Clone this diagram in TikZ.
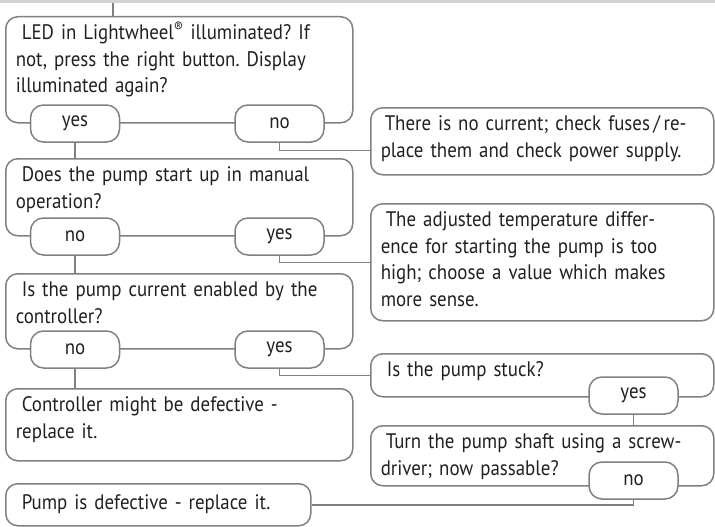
\documentclass[tikz,border=0pt]{standalone}
\usepackage{fontspec}
\setmainfont{PT Sans}[FakeStretch=0.9]
\frenchspacing
\usetikzlibrary{positioning}
\definecolor{linegray}{HTML}{808080}
\definecolor{bargray}{HTML}{D3D3D3}
\definecolor{textgray}{HTML}{231F20}

\begin{document}
\begin{tikzpicture}[
    x=1pt, y=-1pt,
    font=\fontsize{21}{26.5}\selectfont,
    box/.style={rectangle, draw=linegray, line width=1.5pt, rounded corners=12pt, anchor=north west, align=left, text width=#1, inner xsep=10pt, inner ysep=9pt, text height=14pt, text=textgray},
    pill/.style={rectangle, draw=linegray, fill=white, line width=1.5pt, rounded corners=13pt, minimum width=89pt, minimum height=37pt, inner sep=0pt, text=textgray},
    link/.style={draw=linegray, line width=1.5pt},
]
\useasboundingbox (0,0) rectangle (715,527);
\fill[bargray] (0,0) rectangle (715,3);
\coordinate (bar) at (113,3);

\node[box=327pt, text depth=74pt] (q1) at (5,16) {\hspace*{6pt}LED in Lightwheel\textsuperscript{®} illuminated? If\\not, press the right button. Display\\illuminated again?};
\node[box=323pt, text depth=35pt] (nc) at (370,107) {\hspace*{4pt}There is no current; check fuses\,/\,re-\\place them and check power supply.};
\node[box=327pt, text depth=45pt] (q2) at (5,158) {\hspace*{6pt}Does the pump start up in manual\\operation?};
\node[box=323pt, text depth=85pt] (td) at (370,203) {\hspace*{5pt}The adjusted temperature differ-\\ence for starting the pump is too\\high; choose a value which makes\\more sense.};
\node[box=327pt, text depth=43pt] (q3) at (5,273) {\hspace*{6pt}Is the pump current enabled by the\\controller?};
\node[box=323pt, text depth=11pt] (st) at (370,353) {\hspace*{6pt}Is the pump stuck?};
\node[box=327pt, text depth=40pt] (cd) at (5,388) {\hspace*{6pt}Controller might be defective -\\replace it.};
\node[box=323pt, text depth=28pt] (ts) at (370,425) {\hspace*{5pt}Turn the pump shaft using a screw-\\driver; now passable?};
\node[box=285pt, text depth=4pt, inner ysep=12pt] (pd) at (5,483) {\hspace*{6pt}Pump is defective - replace it.};

\node[pill] (q1yes) at ([xshift=70pt]q1.south west) {yes};
\node[pill] (q1no) at ([xshift=-74pt]q1.south east) {no};
\node[pill] (q2no) at ([xshift=70pt]q2.south west) {no};
\node[pill] (q2yes) at ([xshift=-74pt]q2.south east) {yes};
\node[pill] (q3no) at ([xshift=70pt]q3.south west) {no};
\node[pill] (q3yes) at ([xshift=-74pt]q3.south east) {yes};
\node[pill] (styes) at ([xshift=-81pt, yshift=2pt]st.south east) {yes};
\node[pill] (tsno) at ([xshift=-81pt, yshift=6pt]ts.south east) {no};

\draw[link] (bar) -- (bar |- q1.north);
\draw[link] (q1yes.south) -- (q1yes.south |- q2.north);
\draw[link] (q1no.south) |- ([yshift=-9pt]nc.west);
\draw[link] (q2no.south) -- (q2no.south |- q3.north);
\draw[link] (q2yes.south) |- (td.west);
\draw[link] (q3no.south) -- (q3no.south |- cd.north);
\draw[link] (q3yes.south) |- (st.west);
\draw[link] (styes.south) -- (styes.south |- ts.north);
\draw[link] (tsno.south) |- (pd.east);
\end{tikzpicture}
\end{document}
